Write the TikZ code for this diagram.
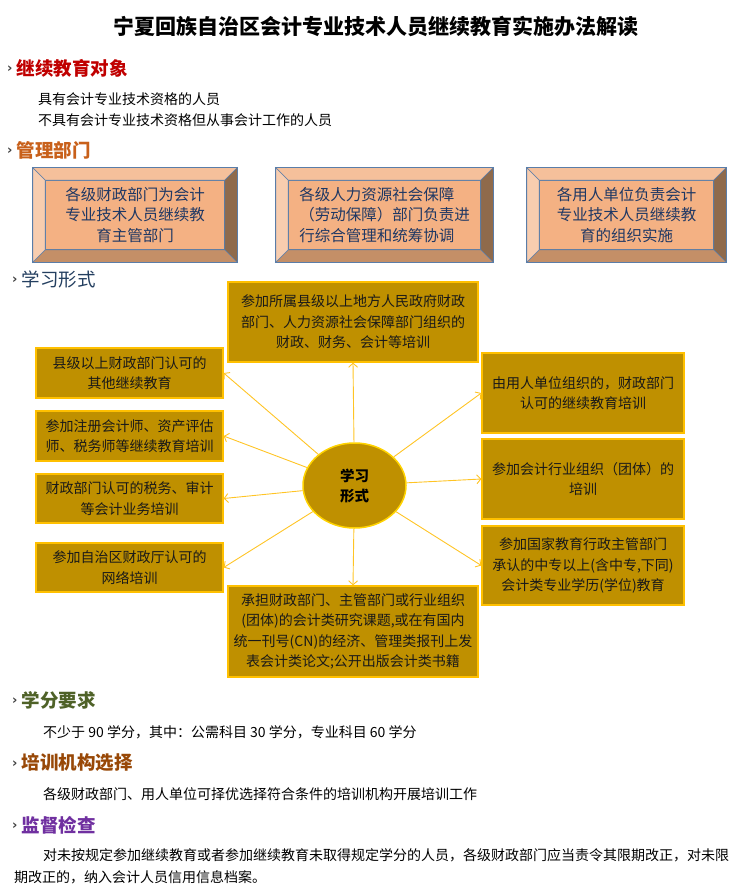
\documentclass[tikz,border=0pt]{standalone}
\usepackage{fontspec}
\setmainfont{Noto Sans CJK SC}
\newfontfamily\markfont{DejaVu Sans}
\usetikzlibrary{arrows.meta,shapes.geometric}

\definecolor{hdred}{HTML}{C00000}
\definecolor{hdorange}{HTML}{C8601A}
\definecolor{hdslate}{HTML}{243F60}
\definecolor{hdgreen}{HTML}{4F6228}
\definecolor{hdbrown}{HTML}{984807}
\definecolor{hdpurple}{HTML}{7030A0}
\definecolor{bvface}{HTML}{F4B183}
\definecolor{bvtop}{HTML}{F5C09B}
\definecolor{bvleft}{HTML}{F8CDAF}
\definecolor{bvright}{HTML}{8F6A4B}
\definecolor{bvbot}{HTML}{C48F67}
\definecolor{bvline}{HTML}{5A7DA8}
\definecolor{bvtext}{HTML}{1F3864}
\definecolor{formfill}{HTML}{BF9000}
\definecolor{formline}{HTML}{FFC000}
\definecolor{spokecol}{HTML}{FFC425}

\newcommand\secmark{\raisebox{2.5pt}{\markfont\fontsize{13pt}{13pt}\selectfont\bfseries\color{black!75}›}\hspace{4pt}}

\tikzset{
  ttl/.style={inner sep=0pt,font=\fontsize{21pt}{24pt}\selectfont\bfseries},
  sect/.style={anchor=west,inner sep=0pt,font=\fontsize{18.5pt}{22pt}\selectfont\bfseries},
  body/.style={anchor=west,inner sep=0pt,font=\fontsize{14pt}{20pt}\selectfont},
  dept/.style={fill=bvface,draw=bvline,line width=0.6pt,text=bvtext,align=center,inner sep=0pt,
    minimum height=69pt,font=\fontsize{15.5pt}{20.5pt}\selectfont},
  bevel/.style={draw=bvline,line width=0.6pt},
  formbox/.style={fill=formfill,draw=formline,line width=1.3pt,align=center,inner sep=0pt,
    text=black!90,font=\fontsize{14pt}{20.5pt}\selectfont},
  hub/.style={ellipse,fill=formfill,draw=formline!70!yellow,line width=1.5pt,inner sep=0pt,
    minimum width=103pt,minimum height=85pt,align=center,
    font=\fontsize{14.5pt}{20pt}\selectfont\bfseries},
  spoke/.style={draw=spokecol,line width=0.9pt,-{Straight Barb[length=4pt,width=9pt]}}
}

\begin{document}
\begin{tikzpicture}[x=1pt,y=-1pt]
\useasboundingbox (0,0) rectangle (751,893);
\node[ttl] (title) at (375.5,26) {宁夏回族自治区会计专业技术人员继续教育实施办法解读};

% continuing education targets
\node[sect,text=hdred] (s1) at (7,68) {\secmark 继续教育对象};
\node[body] (t1a) at (38,99) {具有会计专业技术资格的人员};
\node[body] (t1b) at (38,120) {不具有会计专业技术资格但从事会计工作的人员};

% management departments
\node[sect,text=hdorange] (s2) at (7,150) {\secmark 管理部门};
\node[dept,minimum width=179pt] (dept1) at (135,215) {各级财政部门为会计\\专业技术人员继续教\\育主管部门};
\node[dept,minimum width=192pt,align=left] (dept2) at (384.5,215) {各级人力资源社会保障\\（劳动保障）部门负责进\\行综合管理和统筹协调};
\node[dept,minimum width=174pt] (dept3) at (626.5,215) {各用人单位负责会计\\专业技术人员继续教\\育的组织实施};
\foreach \n in {dept1,dept2,dept3}{
  \path (\n.north west) ++(-12.5,-12.5) coordinate (\n-a);
  \path (\n.north east) ++(12.5,-12.5) coordinate (\n-b);
  \path (\n.south east) ++(12.5,12.5) coordinate (\n-c);
  \path (\n.south west) ++(-12.5,12.5) coordinate (\n-d);
  \filldraw[bevel,fill=bvtop] (\n-a) -- (\n-b) -- (\n.north east) -- (\n.north west) -- cycle;
  \filldraw[bevel,fill=bvright] (\n-b) -- (\n-c) -- (\n.south east) -- (\n.north east) -- cycle;
  \filldraw[bevel,fill=bvbot] (\n-c) -- (\n-d) -- (\n.south west) -- (\n.south east) -- cycle;
  \filldraw[bevel,fill=bvleft] (\n-d) -- (\n-a) -- (\n.north west) -- (\n.south west) -- cycle;
  \draw[bvline,line width=1.2pt] (\n-a) rectangle (\n-c);
}

% forms of study
\node[sect,text=hdslate,font=\fontsize{18.5pt}{22pt}\selectfont] (s3) at (12,279) {\secmark 学习形式};
\node[formbox,minimum width=250pt,minimum height=80pt] (ftop) at (353,322) {参加所属县级以上地方人民政府财政\\部门、人力资源社会保障部门组织的\\财政、财务、会计等培训};
\node[formbox,minimum width=187pt,minimum height=50pt] (fl1) at (129.5,373) {县级以上财政部门认可的\\其他继续教育};
\node[formbox,minimum width=187pt,minimum height=50pt] (fl2) at (129.5,436) {参加注册会计师、资产评估\\师、税务师等继续教育培训};
\node[formbox,minimum width=187pt,minimum height=49pt] (fl3) at (129.5,498.5) {财政部门认可的税务、审计\\等会计业务培训};
\node[formbox,minimum width=187pt,minimum height=49pt] (fl4) at (129.5,567.5) {参加自治区财政厅认可的\\网络培训};
\node[formbox,minimum width=202pt,minimum height=80pt] (fr1) at (583,393) {由用人单位组织的，财政部门\\认可的继续教育培训};
\node[formbox,minimum width=202pt,minimum height=80pt] (fr2) at (583,479) {参加会计行业组织（团体）的\\培训};
\node[formbox,minimum width=202pt,minimum height=79pt] (fr3) at (583,565.5) {参加国家教育行政主管部门\\承认的中专以上(含中专,下同)\\会计类专业学历(学位)教育};
\node[formbox,minimum width=250pt,minimum height=91pt] (fbot) at (353,631.5) {承担财政部门、主管部门或行业组织\\(团体)的会计类研究课题,或在有国内\\统一刊号(CN)的经济、管理类报刊上发\\表会计类论文;公开出版会计类书籍};
\node[hub] (hub) at (354.5,485.5) {学习\\形式};
\foreach \t in {ftop.south,fl1.east,fl2.east,fl3.east,fl4.east,fbot.north,fr1.west,fr2.west,fr3.west}
  \draw[spoke] (hub) -- (\t);

% credits, institutions, supervision
\node[sect,text=hdgreen] (s4) at (12,700) {\secmark 学分要求};
\node[body] (t4) at (43,732) {不少于 90 学分，其中：公需科目 30 学分，专业科目 60 学分};
\node[sect,text=hdbrown] (s5) at (12,763) {\secmark 培训机构选择};
\node[body] (t5) at (43,794) {各级财政部门、用人单位可择优选择符合条件的培训机构开展培训工作};
\node[sect,text=hdpurple] (s6) at (12,825) {\secmark 监督检查};
\node[body] (t6a) at (43,855) {对未按规定参加继续教育或者参加继续教育未取得规定学分的人员，各级财政部门应当责令其限期改正，对未限};
\node[body] (t6b) at (14,877) {期改正的，纳入会计人员信用信息档案。};
\end{tikzpicture}
\end{document}
